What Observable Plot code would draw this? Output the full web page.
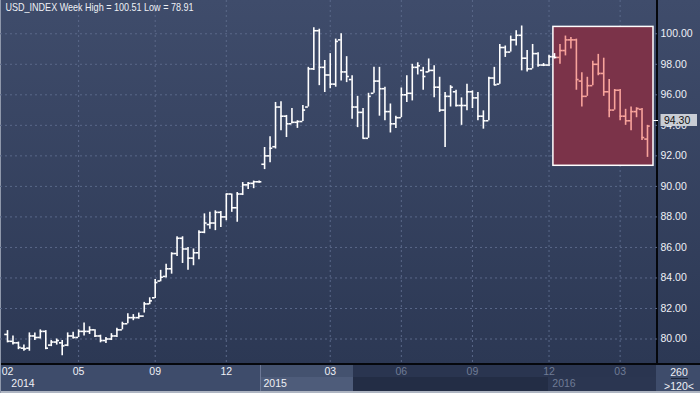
<!DOCTYPE html>
<html><head><meta charset="utf-8">
<script src="https://cdn.jsdelivr.net/npm/d3@7"></script>
<script src="https://cdn.jsdelivr.net/npm/@observablehq/plot@0.6"></script>
<style>
html,body{margin:0;padding:0;background:#2c3854;}
#wrap{position:relative;width:700px;height:393px;overflow:hidden;
  background:linear-gradient(to bottom,#3f4c6b 0px,#2c3854 364px);
  font-family:"Liberation Sans",Arial,sans-serif;}
#wrap>div{position:absolute;}
#wrap svg{position:absolute;left:0;top:0;}
</style></head><body><div id="wrap"></div>
<script>
// ---- data (weekly OHLC) ----
const open  = [80.30,79.85,79.75,79.40,79.40,80.20,80.10,80.50,79.60,79.80,79.75,79.60,80.20,80.10,80.50,80.50,80.60,80.20,79.90,80.00,80.20,80.60,81.00,81.40,81.40,81.50,82.30,82.70,83.80,84.10,84.60,85.60,86.60,85.90,85.30,85.65,87.00,87.50,87.60,88.30,88.00,89.50,88.60,89.50,90.10,90.20,90.30,91.45,92.00,92.60,95.20,94.60,94.10,94.20,94.25,95.20,97.70,100.20,97.80,97.30,96.70,99.60,97.50,97.00,95.20,94.85,93.15,96.10,96.90,96.40,94.90,94.10,94.50,96.00,96.10,97.80,97.60,97.50,97.60,96.50,95.00,95.90,96.20,95.30,95.30,96.20,95.80,94.60,94.30,97.10,96.70,99.10,98.80,99.60,99.90,98.40,97.70,98.70,97.95,97.95,98.50,98.45,98.90,99.60,99.60,96.90,95.90,96.60,98.00,97.40,96.20,95.00,96.30,94.60,94.30,94.90,95.05,93.10];
const high  = [80.55,80.20,79.80,79.60,80.40,80.40,80.60,80.55,79.90,80.00,79.90,80.40,80.45,80.60,81.05,80.80,80.60,80.25,80.10,80.35,80.70,81.10,81.65,81.60,81.70,82.40,82.70,83.90,84.50,84.90,85.65,86.70,86.70,86.00,85.90,87.10,88.20,88.30,88.40,88.35,89.50,89.50,89.60,90.25,90.25,90.35,90.35,92.55,93.25,95.50,95.55,94.65,95.10,94.30,95.30,97.80,100.40,100.30,98.25,98.70,99.65,100.00,98.50,97.25,95.90,95.10,96.10,97.80,97.80,96.50,95.40,94.60,96.45,97.25,98.00,98.10,97.80,98.35,97.90,97.15,96.15,96.60,96.30,95.80,96.70,96.26,96.15,94.95,97.15,97.80,99.30,99.20,99.85,100.20,100.51,98.90,99.30,98.75,98.05,98.60,98.70,99.30,99.85,99.75,99.65,97.45,97.15,98.20,98.65,98.40,97.00,96.35,96.35,95.05,95.20,95.15,95.10,94.00];
const low   = [79.75,79.60,79.30,79.20,79.20,79.90,80.00,79.30,79.50,79.60,78.91,79.50,80.00,80.10,80.20,80.30,80.10,79.75,79.70,79.90,80.10,80.60,81.00,81.20,81.30,81.70,82.25,82.65,83.75,84.00,84.25,85.40,84.95,84.50,84.80,85.20,86.90,87.20,87.10,87.30,87.75,88.30,87.65,89.40,89.80,89.85,90.20,91.10,91.55,92.45,93.65,93.20,94.10,93.80,94.25,95.20,97.60,96.60,96.15,96.40,96.50,96.90,96.80,94.40,93.85,93.10,93.15,96.10,94.60,94.30,93.50,93.80,94.50,95.50,95.60,97.30,96.30,97.45,95.80,94.85,92.55,95.20,95.20,94.00,94.95,95.10,94.30,93.75,94.30,96.60,96.70,98.45,98.80,99.20,97.57,97.50,97.70,97.80,97.85,97.85,98.35,98.00,98.55,99.00,96.30,95.20,95.90,96.60,97.25,95.90,94.50,95.00,94.30,94.00,93.65,94.50,93.00,91.90];
const close = [79.85,79.75,79.45,79.35,80.20,80.10,80.50,79.40,79.80,79.90,79.55,80.20,80.10,80.50,80.50,80.60,80.20,79.90,80.00,80.20,80.60,81.00,81.40,81.40,81.50,82.30,82.50,83.70,84.05,84.60,85.60,86.60,85.90,85.30,85.65,87.00,87.60,87.60,88.30,88.00,89.50,88.60,89.50,90.10,90.20,90.30,90.30,92.00,92.50,95.20,94.60,94.10,94.20,94.25,95.00,97.70,100.20,97.80,97.30,96.70,99.50,97.50,97.20,95.20,94.85,93.15,95.90,96.90,96.40,94.90,94.10,94.50,96.00,96.10,97.80,97.90,97.20,97.60,96.50,95.00,95.90,96.50,95.30,95.30,96.20,95.80,94.60,94.30,97.10,96.65,99.10,98.80,99.60,99.90,98.40,97.70,98.70,97.95,97.95,98.50,98.45,98.90,99.60,99.60,97.00,95.90,96.60,98.00,97.40,96.20,95.00,96.30,94.60,94.30,94.90,95.10,93.20,93.95];
const lastQuote = 94.30;
const titleText = "USD_INDEX Week High = 100.51 Low = 78.91";
const yTicks = [80, 82, 84, 86, 88, 90, 92, 94, 96, 98, 100];
const monthLabels = ["02","05","09","12","03","06","09","12","03"];
const monthIdx    = [0, 13, 27, 40, 59, 72, 85, 99, 112];
const yearLabels  = ["2014","2015","2016"];
const yearIdx     = [0.7, 46.8, 99.6];
const highlightStart = 101;      // first bar inside the red box
const windowEdges = [46.25, 63.25, 98.9]; // 2015 cell start, dark region start, 2016 cell start
const panelTop = "260", panelBottom = ">120<";

// ---- build ----
const bars = open.map((o, i) => ({i, open: o, high: high[i], low: low[i], close: close[i]}));
const normal = bars.filter(d => d.i < highlightStart);
const hl = bars.filter(d => d.i >= highlightStart);
const box = [{
  x1: highlightStart - 1.2, x2: bars.length - 1 + 1.1,
  y1: d3.min(hl, d => d.low) - 0.55, y2: d3.max(hl, d => d.high) + 0.6
}];
const months = monthLabels.map((t, k) => ({t, i: monthIdx[k]}));
const years = yearLabels.map((t, k) => ({t, i: yearIdx[k]}));
const darkStart = windowEdges[1];

const WHITE = "#ffffff", SALMON = "#f8a39b", GRID = "#5a6889";
const ohlc = (data, color) => [
  Plot.ruleX(data, {x: "i", y1: "low", y2: "high", stroke: color, strokeWidth: 1.6}),
  Plot.ruleY(data, {y: "open", x1: d => d.i - 0.5, x2: "i", stroke: color, strokeWidth: 1.6}),
  Plot.ruleY(data, {y: "close", x1: "i", x2: d => d.i + 0.5, stroke: color, strokeWidth: 1.6})
];

const plot = Plot.plot({
  width: 700, height: 393,
  marginLeft: 0, marginRight: 43, marginTop: 0, marginBottom: 29,
  x: {domain: [-7 / 5.47, 650 / 5.47], axis: null},
  y: {domain: [78.33, 102.18], axis: null},
  style: {background: "transparent", fontFamily: "Liberation Sans, Arial, sans-serif", overflow: "visible"},
  marks: [
    Plot.ruleY(yTicks, {stroke: GRID, strokeDasharray: "2,3"}),
    Plot.ruleX(monthIdx.slice(1), {stroke: GRID, strokeDasharray: "2,3"}),
    Plot.rect(box, {x1: "x1", x2: "x2", y1: "y1", y2: "y2", fill: "#7b3349", stroke: "#ffffff", strokeWidth: 1.5}),
    ...ohlc(normal, WHITE),
    ...ohlc(hl, SALMON),
    Plot.axisY({anchor: "right", ticks: yTicks, tickFormat: d => d.toFixed(2), tickSize: 0, tickPadding: 3,
      fill: "#eef0f5", fontSize: 10.5, fontWeight: "normal"}),
    Plot.text(months.filter(d => d.i < darkStart), {x: "i", text: "t", frameAnchor: "bottom", dy: 10.5, fill: "#eef0f5", fontSize: 10.5}),
    Plot.text(months.filter(d => d.i >= darkStart), {x: "i", text: "t", frameAnchor: "bottom", dy: 10.5, fill: "#6f7b95", fontSize: 10.5}),
    Plot.text(years.filter(d => d.i < darkStart), {x: "i", text: "t", frameAnchor: "bottom", dy: 22, textAnchor: "start", fill: "#eef0f5", fontSize: 10.5}),
    Plot.text(years.filter(d => d.i >= darkStart), {x: "i", text: "t", frameAnchor: "bottom", dy: 22, textAnchor: "start", fill: "#6f7b95", fontSize: 10.5}),
    Plot.text([titleText], {frameAnchor: "top-left", dx: 5, dy: 3, lineAnchor: "top", textAnchor: "start", fill: "#eef0f5", fontSize: 11})
  ]
});

const wrap = document.getElementById("wrap");
const xs = plot.scale("x"), ys = plot.scale("y");
const X = v => xs.apply(v);
function box_(l, t, w, h, bg, extra) {
  const d = document.createElement("div");
  d.style.cssText = `left:${l}px;top:${t}px;width:${w}px;height:${h}px;background:${bg};${extra || ""}`;
  wrap.appendChild(d); return d;
}
const x2015 = Math.round(X(windowEdges[0])), xDark = Math.round(X(windowEdges[1])), x2016 = Math.round(X(windowEdges[2]));
// bottom strip
box_(0, 364, 700, 29, "#3e4c6b");
box_(x2015, 365, xDark - x2015, 12, "#44526f");
box_(x2015, 377, xDark - x2015, 14, "#4e5c7a");
box_(x2015, 365, 1, 26, "#6c7896");
box_(xDark, 365, 656 - xDark, 12, "#2a3550");
box_(xDark, 377, 656 - xDark, 14, "#232d45");
box_(x2016, 377, 656 - x2016, 14, "#2b3651");
box_(0, 363, 700, 2, "#05070c");
box_(656, 0, 2, 365, "#05070c");
box_(0, 391, 700, 2, "#aeb5c2");
box_(0, 0, 1, 393, "#8f98ab");
// bottom-right panel
const p = box_(658, 365, 42, 26, "#3e4c6b", "color:#eef0f5;font-size:10.5px;text-align:center;line-height:12px;");
p.innerHTML = `<div style="position:absolute;left:0;top:1px;width:42px">${panelTop}</div>
<div style="position:absolute;left:13px;top:13px;width:17px;height:1px;background:#1c2436"></div>
<div style="position:absolute;left:0;top:15px;width:42px">${panelBottom.replace(/</g,"&lt;").replace(/>/g,"&gt;")}</div>`;

wrap.appendChild(plot);
// title width
for (const t of plot.querySelectorAll("text")) {
  if (t.textContent === titleText) { t.setAttribute("textLength", 188); t.setAttribute("lengthAdjust", "spacingAndGlyphs"); }
}
// last quote label
const yq = ys.apply(lastQuote);
box_(653, Math.round(yq), 5, 1, "#ffffff", "z-index:2");
const q = box_(660, Math.round(yq) - 6, 37, 12, "#c9cdd5", "z-index:2;color:#111;font-size:10.5px;line-height:12px;box-sizing:border-box;padding-left:3px;border-left:1px solid #7d8594;");
q.textContent = lastQuote.toFixed(2);
</script></body></html>
